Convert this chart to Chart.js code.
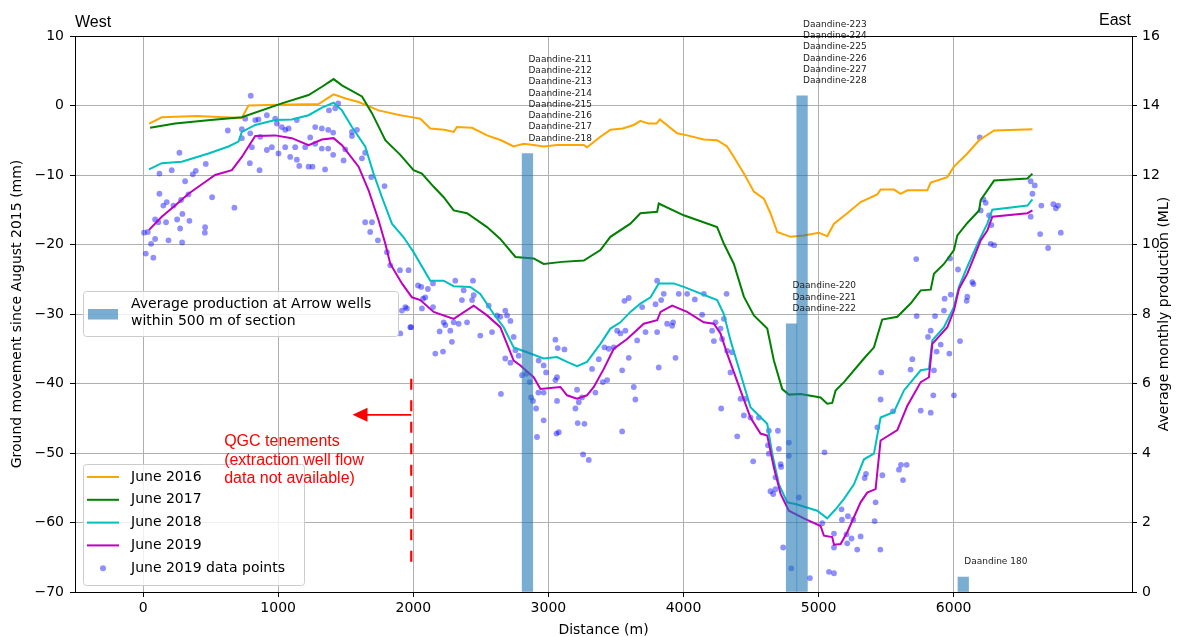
<!DOCTYPE html>
<html lang="en">
<head>
<meta charset="UTF-8">
<title>Ground movement along section</title>
<script src="https://cdn.jsdelivr.net/npm/chart.js"></script>
<style>
  html, body { margin: 0; padding: 0; background: #fff; }
  #wrap { width: 1179px; height: 637px; }
</style>
</head>
<body>
<div id="wrap"><canvas id="chart" width="1179" height="637"></canvas></div>
<script>
// ---- data (distance m, movement mm) ----
const june2016 = [[44,-2.6],[138,-1.7],[400,-1.5],[600,-1.7],[731,-1.8],[780,0.0],[1000,0.1],[1299,0.2],[1410,1.6],[1500,1.0],[1595,0.5],[1743,-0.7],[1904,-1.4],[1965,-1.6],[2052,-1.9],[2126,-3.3],[2230,-3.5],[2299,-3.8],[2323,-3.1],[2435,-3.2],[2546,-4.3],[2650,-5.0],[2743,-5.9],[2817,-5.5],[2890,-5.7],[2965,-5.9],[3064,-5.7],[3262,-5.7],[3286,-6.0],[3385,-4.5],[3459,-3.5],[3550,-3.3],[3632,-2.8],[3681,-2.2],[3740,-2.6],[3800,-2.6],[3825,-2.0],[3953,-4.0],[4027,-4.3],[4150,-4.9],[4249,-5.0],[4323,-5.9],[4373,-7.4],[4447,-9.8],[4521,-12.4],[4595,-13.4],[4644,-15.5],[4694,-18.2],[4793,-18.9],[4891,-18.7],[5002,-18.3],[5064,-18.8],[5114,-17.0],[5212,-15.5],[5311,-13.9],[5434,-12.8],[5459,-12.1],[5558,-12.1],[5607,-12.7],[5657,-12.2],[5805,-12.2],[5830,-11.1],[5953,-10.3],[6002,-8.8],[6101,-6.9],[6188,-5.0],[6299,-3.6],[6583,-3.4]];
const june2017 = [[52,-3.2],[237,-2.6],[500,-2.1],[731,-1.7],[1027,0.3],[1225,1.5],[1324,2.7],[1410,3.8],[1472,2.9],[1620,1.3],[1694,-1.1],[1793,-5.0],[1904,-7.1],[2002,-9.3],[2064,-9.8],[2151,-11.7],[2225,-13.2],[2299,-15.1],[2398,-15.5],[2546,-17.5],[2644,-19.2],[2756,-21.8],[2891,-22.0],[2965,-22.8],[3100,-22.5],[3262,-22.3],[3385,-20.8],[3459,-18.9],[3607,-17.0],[3681,-15.5],[3805,-15.3],[3817,-14.1],[4002,-15.8],[4249,-17.5],[4299,-19.9],[4373,-22.8],[4447,-27.5],[4521,-30.2],[4620,-32.1],[4669,-36.7],[4731,-40.8],[4780,-41.6],[4867,-41.5],[5015,-42.0],[5064,-42.9],[5101,-42.8],[5126,-41.0],[5188,-39.8],[5336,-36.4],[5410,-34.8],[5471,-30.8],[5583,-30.4],[5681,-28.5],[5756,-26.6],[5830,-26.5],[5854,-24.2],[5928,-22.8],[6002,-20.8],[6027,-18.7],[6101,-16.9],[6188,-15.1],[6200,-13.6],[6299,-10.8],[6546,-10.5],[6583,-9.8]];
const june2018 = [[44,-9.2],[138,-8.3],[286,-8.1],[484,-6.9],[632,-5.9],[706,-5.2],[731,-3.8],[830,-2.8],[978,-2.1],[1101,-2.0],[1225,-1.4],[1324,-0.3],[1410,0.4],[1472,-0.7],[1546,-3.1],[1644,-5.9],[1706,-9.8],[1768,-13.2],[1842,-17.0],[1930,-19.0],[2002,-21.1],[2126,-25.2],[2225,-25.2],[2299,-26.0],[2422,-26.1],[2496,-27.1],[2595,-30.0],[2669,-31.9],[2743,-34.8],[2842,-35.5],[2965,-36.4],[3064,-36.2],[3138,-36.9],[3212,-37.5],[3286,-36.9],[3385,-34.3],[3459,-32.1],[3533,-31.2],[3607,-29.7],[3681,-28.5],[3756,-27.6],[3817,-25.6],[3928,-25.6],[4002,-26.1],[4249,-28.0],[4299,-30.0],[4348,-33.8],[4422,-38.6],[4496,-43.4],[4620,-45.8],[4657,-50.1],[4706,-54.5],[4768,-57.1],[4842,-57.4],[4990,-58.3],[5064,-59.4],[5126,-58.1],[5188,-56.6],[5262,-54.5],[5336,-50.9],[5410,-50.1],[5459,-44.9],[5558,-44.1],[5632,-41.0],[5756,-38.1],[5817,-37.9],[5842,-33.8],[5928,-31.9],[6002,-29.0],[6039,-26.1],[6101,-23.2],[6188,-19.4],[6249,-17.0],[6286,-15.0],[6546,-14.4],[6583,-13.5]];
const june2019 = [[44,-17.9],[138,-16.0],[237,-14.4],[336,-12.7],[459,-11.0],[533,-10.0],[657,-9.3],[731,-7.4],[780,-5.9],[830,-4.4],[978,-4.3],[1101,-4.7],[1225,-5.7],[1324,-4.9],[1410,-4.7],[1472,-5.7],[1595,-8.8],[1669,-12.2],[1743,-16.5],[1793,-19.9],[1830,-22.8],[1916,-25.6],[1990,-27.6],[2052,-28.0],[2151,-29.7],[2299,-30.7],[2447,-28.8],[2546,-30.2],[2644,-31.9],[2743,-36.7],[2793,-37.4],[2891,-39.1],[2941,-40.8],[3089,-40.5],[3138,-41.7],[3212,-42.2],[3286,-41.7],[3336,-40.5],[3410,-37.9],[3484,-35.0],[3583,-33.6],[3706,-31.4],[3805,-30.9],[3830,-29.7],[3916,-28.8],[4027,-29.7],[4150,-31.2],[4225,-31.4],[4274,-32.8],[4323,-35.7],[4422,-41.0],[4496,-44.9],[4570,-47.2],[4620,-47.5],[4669,-52.1],[4719,-55.9],[4780,-58.3],[4891,-59.4],[5015,-60.5],[5040,-61.9],[5101,-62.1],[5114,-63.2],[5163,-63.1],[5212,-61.4],[5311,-57.1],[5360,-55.7],[5422,-55.2],[5459,-48.2],[5583,-46.7],[5657,-43.2],[5756,-39.8],[5817,-39.1],[5842,-34.3],[5953,-31.9],[6002,-29.5],[6039,-26.4],[6101,-24.2],[6151,-21.8],[6200,-19.4],[6249,-18.0],[6286,-16.0],[6546,-15.5],[6583,-15.1]];
const points2019 = [[797,1.4],[627,-3.6],[731,-3.4],[269,-6.8],[212,-9.3],[121,-9.8],[368,-9.9],[390,-9.4],[464,-8.4],[311,-10.9],[121,-12.7],[175,-13.9],[150,-14.4],[225,-14.4],[281,-13.6],[336,-12.8],[511,-13.2],[676,-14.7],[89,-16.4],[113,-16.8],[170,-16.8],[252,-16.4],[291,-15.6],[343,-16.6],[7,-18.3],[35,-18.2],[89,-19.2],[59,-19.9],[188,-19.4],[274,-17.7],[289,-19.7],[459,-17.5],[457,-18.3],[20,-21.3],[76,-21.9],
[756,-1.9],[830,-2.1],[854,-2.0],[916,-1.4],[978,-1.9],[990,-2.6],[1027,-3.1],[1052,-3.5],[1077,-3.3],[1138,-2.1],[1274,-3.1],[1323,-3.3],[1237,-4.6],[1274,-5.5],[1370,-3.5],[1407,-3.9],[1444,0.3],[1422,-0.4],[1376,-0.7],[1546,-3.8],[1546,-4.4],[1583,-3.5],[731,-4.7],[793,-4.0],[805,-6.0],[867,-4.5],[916,-6.4],[953,-6.0],[1002,-6.9],[1052,-6.0],[1089,-7.4],[1126,-6.0],[1138,-7.8],[1156,-8.7],[1225,-8.8],[1254,-8.8],[1200,-6.0],[1323,-6.2],[1370,-6.2],[1407,-7.1],[1347,-9.2],[1496,-6.3],[1484,-7.9],[1620,-7.6],[1644,-6.8],[862,-9.3],[790,-8.3],
[1689,-10.3],[1787,-11.6],[1644,-16.8],[1694,-16.8],[1681,-18.2],[1738,-19.4],[1805,-21.1],[1830,-23.0],[1965,-23.7],[2035,-25.9],[2059,-26.1],[2108,-26.4],[2146,-25.6],[2072,-27.8],[2146,-29.0],[1941,-29.0],[1916,-29.5],[1984,-31.9],[1901,-23.7],
[1904,-32.8],[1978,-31.9],[2089,-27.6],[2064,-29.2],[1953,-29.2],[2163,-35.7],[2220,-35.4],[2225,-31.2],[2237,-31.6],[2195,-32.5],[2274,-32.4],[2286,-34.0],[2299,-31.2],[2336,-31.4],[2373,-26.6],[2360,-28.0],[2398,-31.2],[2447,-27.3],[2435,-28.0],[2496,-33.1],[2558,-28.8],[2583,-32.6],[2620,-30.2],[2644,-30.4],[2681,-29.5],[2694,-30.2],[2719,-31.0],[2743,-33.3],[2681,-36.4],[2719,-37.0],[2649,-41.5],[2756,-35.2],[2780,-36.0],[2311,-25.2],[2442,-25.2],
[2805,-38.8],[2837,-38.6],[2862,-39.8],[2872,-42.0],[2886,-42.5],[2909,-43.6],[2916,-47.7],[2965,-45.3],[2926,-41.3],[2965,-41.3],[2965,-37.4],[2983,-38.4],[3052,-33.7],[3069,-34.9],[3119,-35.1],[3052,-39.5],[3064,-39.1],[3064,-42.5],[3077,-47.0],[3060,-47.2],[2928,-36.7],[3212,-40.9],[3200,-43.6],[3225,-42.7],[3249,-42.0],[3217,-45.7],[3267,-45.8],[3257,-50.2],[3299,-51.0],[3323,-37.9],[3373,-36.5],[3348,-41.3],[3403,-39.8],[3435,-39.5],[3415,-34.8],[3447,-35.0],[3484,-34.8],[3509,-32.4],[3533,-32.8],[3546,-38.1],[3546,-46.9],[3570,-32.4],[3595,-36.3],[3563,-28.1],[3595,-27.7],[3632,-40.5],[3644,-42.3],[3657,-33.8],[3694,-29.0],[3719,-32.6],[3793,-28.6],[3817,-37.7],[3805,-32.6],[3835,-28.0],[3854,-27.1],[3879,-31.4],[3916,-31.7],[3923,-31.2],[3941,-36.3],[3965,-27.1],[4027,-27.1],[4084,-27.9],[4138,-30.1],[4151,-27.1],[4212,-32.4],[4225,-33.9],[4237,-31.2],[4274,-32.1],[4279,-43.6],[4299,-30.7],[4319,-27.1],[4323,-35.3],[4360,-35.5],[4398,-47.6],[4516,-51.2],[4447,-44.6],[4558,-44.9],[3805,-25.2],
[4286,-33.6],[4348,-38.4],[4422,-42.2],[4459,-42.2],[4496,-44.9],[4632,-46.8],[4699,-46.8],[4625,-48.9],[4632,-50.1],[4706,-49.4],[4719,-51.6],[4723,-52.0],[4780,-48.5],[4780,-50.4],[4681,-53.5],[4644,-55.5],[4664,-55.9],[4681,-55.2],[4854,-56.4],[4738,-63.6],[4798,-66.6],[4936,-68.0],[5044,-49.9],[5027,-60.1],[5077,-67.1],[5114,-67.3],[5114,-61.6],[5114,-63.6],[5170,-58.1],[5173,-59.6],[5217,-59.1],[5257,-59.6],[5207,-61.7],[5212,-63.0],[5244,-62.3],[5286,-63.9],[5311,-62.0],[5415,-59.8],[5422,-57.1],[5457,-63.9],[5472,-53.2],[5341,-53.6],[5351,-53.0],[5435,-46.3],[5459,-42.3],[5464,-38.4],[5551,-44.0],[5595,-52.4],[5610,-51.7],[5652,-51.7],[5625,-53.9],[5681,-38.0],[5694,-36.5],[5726,-30.3],[5756,-43.9],[5830,-44.2],[5849,-41.7],[5854,-38.1],[5810,-33.3],[5830,-32.4],[5862,-30.3],[5874,-35.4],[5904,-34.4],[5928,-29.5],[5968,-35.7],[5978,-27.2],[5933,-27.8],[6002,-41.7],[6047,-33.9],[6096,-28.1],[6101,-27.5],
[5723,-22.1],[5973,-22.0],[6032,-23.6],[6138,-25.4],[6146,-25.7],[6193,-4.6],[6200,-15.1],[6237,-14.0],[6220,-13.5],[6262,-15.8],[6279,-17.2],[6274,-19.9],[6299,-20.1],[6570,-10.9],[6600,-11.5],[6583,-12.7],[6570,-16.0],[6649,-14.4],[6738,-14.2],[6773,-14.4],[6756,-14.8],[6640,-18.5],[6793,-18.3],[6699,-20.5]];

// production bars (distance m, average monthly production ML)
const barDistance = [2845, 4800, 4878, 6071];
const barProduction = [12.62, 7.72, 14.28, 0.43];
const barLabels = [
  ['Daandine-211','Daandine-212','Daandine-213','Daandine-214','Daandine-215','Daandine-216','Daandine-217','Daandine-218'],
  ['Daandine-220','Daandine-221','Daandine-222'],
  ['Daandine-223','Daandine-224','Daandine-225','Daandine-226','Daandine-227','Daandine-228'],
  ['Daandine 180']
];

const xTicks = [0, 1000, 2000, 3000, 4000, 5000, 6000];
const leftTicks = [-70, -60, -50, -40, -30, -20, -10, 0, 10];
const rightTicks = [0, 2, 4, 6, 8, 10, 12, 14, 16];

// QGC boundary annotation
const boundaryX = 1985;
const boundaryRange = [-39.3, -67];
const arrowY = -44.5;
const arrowTipX = 1550;
const noteX = 600;
const noteY = -48.4;
const noteLines = ['QGC tenements', '(extraction well flow', 'data not available)'];

const lineSeries = [
  { label: 'June 2016', data: june2016, color: '#ffa500' },
  { label: 'June 2017', data: june2017, color: '#008000' },
  { label: 'June 2018', data: june2018, color: '#00bfbf' },
  { label: 'June 2019', data: june2019, color: '#bf00bf' }
];

const barColor = 'rgba(31,119,180,0.6)';
const dotColor = 'rgba(0,0,255,0.44)';
const TICK_FONT = { family: 'DejaVu Sans', size: 14 };
const fmt = v => (v < 0 ? '\u2212' + Math.abs(v) : String(v));

const toXY = arr => arr.map(p => ({ x: p[0], y: p[1] }));

const datasets = [];
datasets.push({
  type: 'bar',
  label: 'Average production at Arrow wells within 500 m of section',
  data: barDistance.map((d, i) => ({ x: d, y: barProduction[i] })),
  yAxisID: 'y2',
  backgroundColor: barColor,
  borderWidth: 0,
  barThickness: 10.6,
  order: 1
});
lineSeries.forEach((s, i) => {
  datasets.push({
    type: 'line',
    label: s.label,
    data: toXY(s.data),
    yAxisID: 'y',
    borderColor: s.color,
    borderWidth: 2,
    pointRadius: 0,
    fill: false,
    tension: 0,
    order: 5 - i
  });
});
datasets.push({
  type: 'scatter',
  label: 'June 2019 data points',
  data: toXY(points2019),
  yAxisID: 'y',
  backgroundColor: dotColor,
  borderWidth: 0,
  pointRadius: 2.9,
  order: 10
});

function roundBox(ctx, x, y, w, h, r) {
  ctx.beginPath();
  ctx.moveTo(x + r, y);
  ctx.lineTo(x + w - r, y);
  ctx.arcTo(x + w, y, x + w, y + r, r);
  ctx.lineTo(x + w, y + h - r);
  ctx.arcTo(x + w, y + h, x + w - r, y + h, r);
  ctx.lineTo(x + r, y + h);
  ctx.arcTo(x, y + h, x, y + h - r, r);
  ctx.lineTo(x, y + r);
  ctx.arcTo(x, y, x + r, y, r);
  ctx.closePath();
  ctx.fillStyle = 'rgba(255,255,255,0.8)';
  ctx.fill();
  ctx.strokeStyle = '#cccccc';
  ctx.lineWidth = 1;
  ctx.stroke();
}

const decorations = {
  id: 'decorations',
  afterDatasetsDraw(chart) {
    const { ctx, chartArea: a, scales } = chart;
    const xs = scales.x, ys = scales.y, y2 = scales.y2;
    ctx.save();

    // boundary dashed line + arrow
    const bx = xs.getPixelForValue(boundaryX);
    ctx.strokeStyle = 'red';
    ctx.lineWidth = 2.2;
    ctx.setLineDash([11, 10.5]);
    ctx.beginPath();
    ctx.moveTo(bx, ys.getPixelForValue(boundaryRange[0]));
    ctx.lineTo(bx, ys.getPixelForValue(boundaryRange[1]));
    ctx.stroke();
    ctx.setLineDash([]);
    const ay = ys.getPixelForValue(arrowY);
    const tip = xs.getPixelForValue(arrowTipX);
    ctx.lineWidth = 1.8;
    ctx.beginPath();
    ctx.moveTo(bx, ay);
    ctx.lineTo(tip + 12, ay);
    ctx.stroke();
    ctx.fillStyle = 'red';
    ctx.beginPath();
    ctx.moveTo(tip, ay);
    ctx.lineTo(tip + 15, ay - 7);
    ctx.lineTo(tip + 15, ay + 7);
    ctx.closePath();
    ctx.fill();

    // bar labels
    ctx.textAlign = 'left';
    ctx.textBaseline = 'middle';
    ctx.fillStyle = '#222';
    ctx.font = '9px "DejaVu Sans", sans-serif';
    barDistance.forEach((d, i) => {
      const px = xs.getPixelForValue(d) + 1;
      const top = y2.getPixelForValue(barProduction[i]);
      const lines = barLabels[i];
      lines.forEach((t, j) => {
        ctx.fillText(t, px, top - 15 - (lines.length - 1 - j) * 11.3);
      });
    });

    // frame
    ctx.strokeStyle = '#000';
    ctx.lineWidth = 1;
    ctx.strokeRect(Math.round(a.left) + 0.5, Math.round(a.top) + 0.5,
      Math.round(a.right - a.left), Math.round(a.bottom - a.top));

    // legend 1 (bars)
    roundBox(ctx, 83.5, 291.5, 315, 45, 3);
    ctx.fillStyle = barColor;
    ctx.fillRect(88, 309, 30, 10.5);
    ctx.fillStyle = '#000';
    ctx.font = '14px "DejaVu Sans", sans-serif';
    ctx.fillText('Average production at Arrow wells', 131, 304);
    ctx.fillText('within 500 m of section', 131, 321.5);

    // legend 2 (lines + points)
    roundBox(ctx, 83.5, 464.5, 221, 121, 3);
    lineSeries.forEach((s, i) => {
      const y = 477 + i * 22.8;
      ctx.strokeStyle = s.color;
      ctx.lineWidth = 2;
      ctx.beginPath();
      ctx.moveTo(87, y);
      ctx.lineTo(119, y);
      ctx.stroke();
      ctx.fillStyle = '#000';
      ctx.fillText(s.label, 131, y);
    });
    const py = 477 + 4 * 22.8;
    ctx.fillStyle = dotColor;
    ctx.beginPath();
    ctx.arc(103, py, 3, 0, Math.PI * 2);
    ctx.fill();
    ctx.fillStyle = '#000';
    ctx.fillText('June 2019 data points', 131, py);

    // note text (on top of legend)
    ctx.fillStyle = 'red';
    ctx.font = '16px "Liberation Sans", Arial, sans-serif';
    const nx = xs.getPixelForValue(noteX);
    const ny = ys.getPixelForValue(noteY);
    noteLines.forEach((t, i) => ctx.fillText(t, nx, ny + i * 18.4));

    // axis titles
    ctx.fillStyle = '#000';
    ctx.font = '14px "DejaVu Sans", sans-serif';
    ctx.textAlign = 'center';
    ctx.textBaseline = 'middle';
    const midY = (a.top + a.bottom) / 2;
    ctx.save();
    ctx.translate(17, midY);
    ctx.rotate(-Math.PI / 2);
    ctx.fillText('Ground movement since August 2015 (mm)', 0, 0);
    ctx.restore();
    ctx.save();
    ctx.translate(1164, midY);
    ctx.rotate(-Math.PI / 2);
    ctx.fillText('Average monthly production (ML)', 0, 0);
    ctx.restore();
    ctx.textBaseline = 'alphabetic';
    ctx.fillText('Distance (m)', (a.left + a.right) / 2, 634);

    // West / East
    ctx.font = '16px "Liberation Sans", Arial, sans-serif';
    ctx.textAlign = 'left';
    ctx.fillText('West', a.left, 27);
    ctx.textAlign = 'right';
    ctx.fillText('East', a.right - 1, 25);

    ctx.restore();
  }
};

const gridBase = { color: '#b0b0b0', lineWidth: 1, tickColor: '#000', tickLength: 5, tickWidth: 1 };

new Chart(document.getElementById('chart'), {
  type: 'line',
  data: { datasets },
  options: {
    responsive: false,
    animation: false,
    devicePixelRatio: 1,
    layout: { padding: { top: 36, left: 0, right: 0, bottom: 0 } },
    plugins: { legend: { display: false }, tooltip: { enabled: false } },
    scales: {
      x: {
        type: 'linear',
        min: -504,
        max: 7320,
        offset: false,
        grid: Object.assign({ offset: false }, gridBase),
        border: { display: true, color: '#000', width: 1 },
        ticks: { color: '#000', font: TICK_FONT, padding: 3, maxRotation: 0, autoSkip: false, callback: fmt },
        afterBuildTicks: s => { s.ticks = xTicks.map(v => ({ value: v })); },
        afterFit: s => { s.height = 45; }
      },
      y: {
        type: 'linear',
        position: 'left',
        min: -70,
        max: 10,
        grid: gridBase,
        border: { display: true, color: '#000', width: 1 },
        ticks: { color: '#000', font: TICK_FONT, padding: 6, autoSkip: false, callback: fmt },
        afterBuildTicks: s => { s.ticks = leftTicks.map(v => ({ value: v })); },
        afterFit: s => { s.width = 75; }
      },
      y2: {
        type: 'linear',
        position: 'right',
        min: 0,
        max: 16,
        grid: Object.assign({ drawOnChartArea: false }, gridBase),
        border: { display: true, color: '#000', width: 1 },
        ticks: { color: '#000', font: TICK_FONT, padding: 5, autoSkip: false, callback: fmt },
        afterBuildTicks: s => { s.ticks = rightTicks.map(v => ({ value: v })); },
        afterFit: s => { s.width = 47; }
      }
    }
  },
  plugins: [decorations]
});
</script>
</body>
</html>
